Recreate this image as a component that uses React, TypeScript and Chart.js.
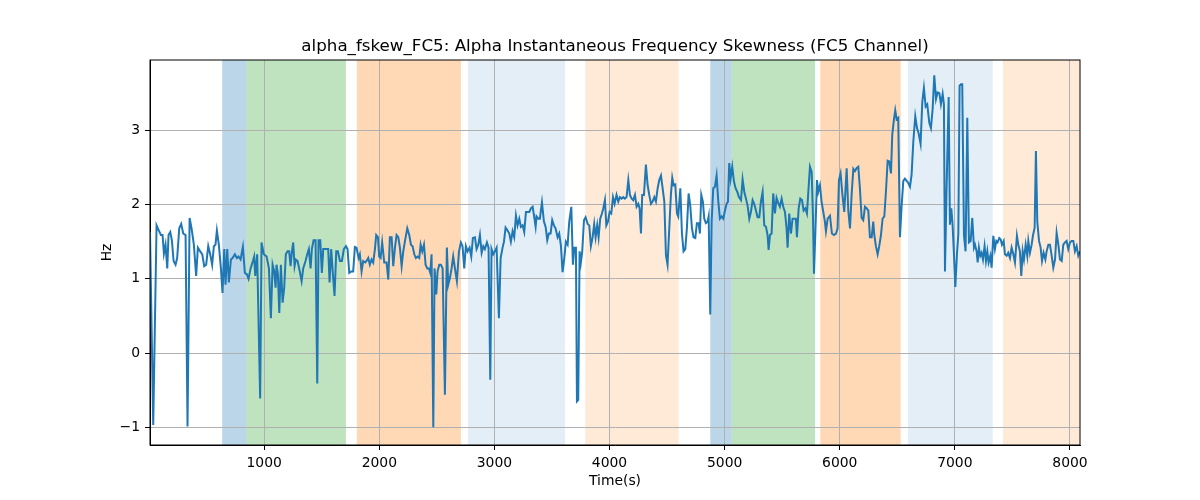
import { useEffect, useRef } from 'react';
import Chart from 'chart.js/auto';

const TITLE = 'alpha_fskew_FC5: Alpha Instantaneous Frequency Skewness (FC5 Channel)';

// [time (s), skewness], split by stretch
const seg0: [number, number][] = [
  [8, 1.63], [36, -0.97], [65, 1.72], [85, 1.65], [103, 1.59], [117, 1.59], [129, 1.34], [143, 1.46],
  [158, 1.14], [169, 1.59], [184, 1.63], [198, 1.52], [213, 1.24], [230, 1.19], [244, 1.28], [262, 1.68],
  [279, 1.74], [297, 1.61], [317, 1.59], [334, -0.99], [352, 1.82], [369, 1.68], [389, 1.46], [409, 1.04],
  [424, 1.42], [444, 1.37], [462, 1.33], [479, 1.17], [496, 1.19], [514, 1.44], [531, 1.33], [548, 1.19],
  [563, 1.44], [577, 1.46], [589, 1.65], [606, 1.46], [624, 1.14], [638, 0.81], [653, 1.4], [664, 0.92],
  [679, 1.4], [693, 0.95], [711, 1.26], [725, 1.28], [745, 1.33], [763, 1.28], [777, 1.3], [795, 1.26],
  [815, 1.43], [832, 1.08], [850, 1.06], [864, 1.0], [882, 1.14], [902, 1.24], [913, 1.3], [922, 1.04],
  [939, 1.33], [965, -0.61],
];
const seg1: [number, number][] = [
  [977, 1.49], [997, 1.33], [1021, 1.3], [1041, 1.14], [1058, 0.47], [1073, 1.19], [1087, 1.1], [1099, 0.88],
  [1107, 1.19], [1119, 1.06], [1131, 0.54], [1145, 1.19], [1160, 0.68], [1174, 0.88], [1188, 1.33], [1203, 1.37],
  [1217, 1.37], [1229, 1.17], [1241, 1.37], [1252, 1.49], [1264, 1.17], [1275, 1.26], [1290, 1.24], [1304, 1.14],
  [1325, 0.97], [1339, 1.14], [1359, 1.24], [1374, 1.33], [1388, 1.4], [1403, 1.14], [1414, 1.4], [1429, 1.52],
  [1446, 1.52], [1461, -0.41], [1472, 1.52], [1487, 1.52], [1501, 1.08], [1513, 1.4], [1527, 1.4], [1542, 1.4],
  [1556, 1.4], [1568, 0.95], [1582, 1.4], [1597, 1.06], [1611, 0.77], [1626, 1.37], [1640, 1.37], [1658, 1.24],
  [1675, 1.24], [1692, 1.4], [1710, 1.44], [1724, 1.4], [1739, 1.08], [1756, 1.1], [1773, 1.1], [1788, 1.43],
  [1802, 1.42], [1820, 1.28], [1831, 1.33], [1846, 1.1], [1860, 1.24], [1878, 1.22], [1889, 1.24], [1904, 1.28],
  [1918, 1.19], [1933, 1.26], [1947, 1.22], [1962, 1.4], [1973, 1.59], [1988, 1.56],
];
const seg2: [number, number][] = [
  [1999, 1.3], [2011, 1.28], [2025, 1.49], [2043, 1.22], [2063, 1.22], [2078, 0.99], [2092, 1.56], [2107, 1.56],
  [2121, 1.17], [2136, 1.42], [2150, 1.59], [2165, 1.56], [2179, 1.42], [2194, 1.17], [2208, 1.37], [2222, 1.5],
  [2243, 1.68], [2260, 1.59], [2275, 1.46], [2289, 1.44], [2304, 1.33], [2318, 1.28], [2332, 1.3], [2347, 1.28],
  [2359, 1.46], [2373, 1.37], [2388, 1.46], [2402, 1.19], [2417, 1.14], [2431, 1.14], [2443, 1.08], [2454, 1.33],
  [2469, -1.0], [2480, 1.14], [2495, 0.79], [2506, 1.1], [2521, 1.19], [2535, 1.19], [2550, 1.14], [2570, -0.56],
  [2587, 1.42], [2599, 0.92], [2613, 1.01], [2628, 1.14], [2642, 1.3], [2657, 1.14], [2674, 0.97], [2692, 1.37],
  [2709, 1.49], [2723, 1.44], [2738, 1.14], [2752, 1.44], [2767, 1.37], [2784, 1.42], [2799, 1.3], [2813, 1.55],
  [2831, 1.56], [2845, 1.4], [2860, 1.46], [2874, 1.59], [2889, 1.35], [2903, 1.44], [2917, 1.4], [2935, 1.49],
  [2949, 1.42], [2964, -0.36], [2975, 1.4], [2990, 1.33],
];
const seg3: [number, number][] = [
  [3004, 1.37], [3019, 1.42], [3039, 0.47], [3054, 1.28], [3071, 1.42], [3083, 1.5], [3097, 1.69], [3114, 1.65],
  [3129, 1.61], [3143, 1.5], [3158, 1.64], [3172, 1.56], [3187, 1.85], [3201, 1.72], [3216, 1.81], [3230, 1.7],
  [3245, 1.72], [3259, 1.63], [3274, 1.9], [3288, 1.9], [3303, 1.9], [3317, 1.95], [3332, 1.97], [3346, 1.83],
  [3358, 1.7], [3366, 1.84], [3381, 1.81], [3395, 1.81], [3413, 2.03], [3430, 1.77], [3445, 1.7], [3459, 1.52],
  [3473, 1.61], [3488, 1.61], [3502, 1.79], [3517, 1.72], [3531, 1.68], [3549, 1.56], [3563, 1.61], [3578, 1.44],
  [3592, 1.09], [3607, 1.28], [3621, 1.5], [3636, 1.46], [3650, 1.77], [3668, 1.97], [3682, 1.19], [3694, 1.42],
  [3708, 1.42], [3717, -0.65], [3728, -0.63], [3740, 1.37], [3751, 1.22], [3763, 1.37], [3778, 1.79], [3792, 1.83],
  [3810, 1.74], [3824, 1.72], [3838, 1.44], [3853, 1.56], [3867, 1.74], [3879, 1.56], [3893, 1.72], [3905, 1.56],
  [3919, 1.81], [3934, 1.88], [3946, 1.95], [3960, 2.06], [3972, 1.72], [3986, 1.77],
];
const seg4: [number, number][] = [
  [4001, 1.9], [4015, 1.88], [4030, 2.1], [4044, 2.01], [4061, 2.13], [4076, 2.04], [4090, 2.1], [4105, 2.08],
  [4119, 2.1], [4134, 2.08], [4148, 2.1], [4163, 2.33], [4177, 2.13], [4192, 2.08], [4206, 2.06], [4221, 2.13],
  [4235, 1.97], [4250, 2.01], [4261, 1.95], [4273, 1.61], [4284, 2.13], [4299, 2.13], [4316, 2.54], [4331, 2.26],
  [4345, 2.13], [4360, 2.01], [4374, 2.04], [4389, 2.1], [4403, 2.04], [4418, 2.22], [4432, 2.33], [4447, 2.39],
  [4461, 2.22], [4476, 2.04], [4490, 1.32], [4504, 1.19], [4519, 1.68], [4533, 2.13], [4545, 2.36], [4557, 2.26],
  [4571, 2.27], [4586, 1.88], [4597, 1.84], [4615, 2.22], [4629, 1.61], [4643, 1.37], [4658, 1.4], [4672, 1.68],
  [4687, 2.15], [4701, 1.99], [4716, 1.68], [4730, 1.56], [4745, 1.55], [4759, 1.75], [4774, 1.75], [4785, 1.61],
  [4797, 2.13], [4811, 2.04], [4823, 1.81], [4837, 1.75], [4852, 1.77], [4861, 1.84], [4875, 0.52], [4887, 1.77],
  [4901, 2.22], [4916, 2.24], [4930, 2.39], [4945, 2.04], [4959, 1.81], [4974, 1.84], [4988, 1.81],
];
const seg5: [number, number][] = [
  [5003, 1.92], [5017, 2.01], [5029, 2.04], [5040, 2.56], [5052, 2.35], [5066, 2.51], [5081, 2.31], [5095, 2.22],
  [5110, 2.17], [5124, 2.1], [5142, 2.06], [5156, 2.34], [5171, 2.17], [5185, 2.08], [5199, 1.99], [5214, 1.81],
  [5228, 1.9], [5243, 2.06], [5257, 2.01], [5272, 1.92], [5286, 1.83], [5301, 1.83], [5315, 2.04], [5330, 2.17],
  [5344, 1.72], [5359, 1.7], [5373, 1.59], [5382, 1.39], [5394, 1.59], [5408, 1.61], [5422, 2.15], [5437, 1.88],
  [5451, 2.09], [5466, 2.02], [5480, 1.97], [5495, 2.08], [5509, 1.97], [5524, 1.9], [5538, 1.68], [5547, 1.42],
  [5561, 1.88], [5576, 1.61], [5590, 1.81], [5605, 1.81], [5619, 1.81], [5628, 1.56], [5643, 1.95], [5657, 2.08],
  [5672, 2.06], [5686, 1.92], [5701, 1.95], [5715, 1.88], [5729, 2.22], [5741, 2.51], [5756, 2.44], [5767, 1.86],
  [5776, 1.07], [5790, 1.72], [5802, 2.33], [5813, 2.17], [5828, 2.26], [5842, 2.04], [5857, 1.9], [5871, 1.77],
  [5880, 1.64], [5895, 1.81], [5915, 1.85], [5932, 1.61], [5950, 1.59], [5967, 1.61], [5981, 1.68], [5993, 2.33],
];
const seg6: [number, number][] = [
  [6007, 2.42], [6022, 2.15], [6039, 1.9], [6060, 2.49], [6074, 1.92], [6089, 1.68], [6103, 2.13], [6118, 2.48],
  [6132, 2.45], [6146, 2.49], [6161, 2.51], [6175, 2.22], [6190, 1.82], [6204, 1.79], [6219, 1.97], [6233, 1.95],
  [6248, 1.92], [6262, 1.56], [6277, 1.56], [6291, 1.77], [6300, 1.59], [6314, 1.44], [6329, 1.33], [6343, 1.44],
  [6358, 1.59], [6372, 1.81], [6387, 1.84], [6401, 2.17], [6416, 2.59], [6430, 2.58], [6445, 2.42], [6456, 2.94],
  [6471, 3.15], [6482, 3.27], [6494, 3.15], [6508, 3.17], [6523, 1.56], [6537, 1.97], [6552, 2.32], [6566, 2.35],
  [6581, 2.32], [6595, 2.29], [6610, 2.24], [6624, 2.4], [6639, 2.85], [6656, 3.19], [6671, 3.03], [6685, 2.96],
  [6702, 2.82], [6717, 3.38], [6731, 3.57], [6746, 3.32], [6760, 3.35], [6778, 3.1], [6792, 3.03], [6807, 3.29],
  [6821, 3.74], [6836, 3.42], [6850, 3.51], [6865, 3.5], [6879, 3.35], [6894, 3.49], [6905, 3.35], [6914, 1.1],
  [6928, 2.22], [6946, 3.45], [6957, 1.73], [6969, 1.95], [6980, 1.73], [6992, 1.33],
];
const seg7: [number, number][] = [
  [7004, 0.89], [7018, 1.33], [7030, 1.6], [7041, 3.6], [7053, 3.62], [7064, 3.62], [7079, 1.58], [7093, 1.37],
  [7108, 3.17], [7122, 1.49], [7137, 1.51], [7151, 1.82], [7166, 1.42], [7175, 1.46], [7189, 1.37], [7198, 1.22],
  [7209, 1.42], [7221, 1.31], [7232, 1.35], [7244, 1.26], [7258, 1.44], [7270, 1.24], [7282, 1.37], [7293, 1.22],
  [7308, 1.31], [7319, 1.15], [7334, 1.58], [7348, 1.4], [7360, 1.51], [7371, 1.49], [7386, 1.55], [7398, 1.53],
  [7409, 1.46], [7424, 1.51], [7435, 1.33], [7450, 1.31], [7464, 1.35], [7479, 1.28], [7493, 1.42], [7508, 1.33],
  [7522, 1.22], [7539, 1.58], [7551, 1.46], [7565, 1.37], [7577, 1.04], [7589, 1.37], [7600, 1.26], [7615, 1.46],
  [7629, 1.31], [7638, 1.51], [7652, 1.35], [7667, 1.46], [7678, 1.58], [7693, 1.69], [7704, 2.72], [7716, 1.77],
  [7731, 1.51], [7745, 1.42], [7757, 1.24], [7771, 1.35], [7786, 1.26], [7797, 1.37], [7812, 1.46], [7826, 1.46],
  [7841, 1.31], [7855, 1.15], [7870, 1.26], [7884, 1.62], [7899, 1.46], [7913, 1.26], [7928, 1.24], [7942, 1.46],
  [7956, 1.49], [7971, 1.51], [7985, 1.4], [8000, 1.49], [8014, 1.51], [8029, 1.51], [8043, 1.37], [8058, 1.44],
  [8072, 1.31], [8087, 1.37],
];

const series = [...seg0, ...seg1, ...seg2, ...seg3, ...seg4, ...seg5, ...seg6, ...seg7];

// shaded intervals (s)
const spanStart = [635, 847, 1805, 2770, 3789, 4875, 5061, 5831, 6593, 7418];
const spanEnd = [847, 1710, 2709, 3613, 4600, 5061, 5785, 6529, 7329, 8087];
const spanKind = ['a', 'b', 'c', 'd', 'e', 'a', 'b', 'c', 'd', 'e'];

const xTicks = [1000, 2000, 3000, 4000, 5000, 6000, 7000, 8000];
const yTicks = [-1, 0, 1, 2, 3];

const spanColors: { [k: string]: string } = {
  a: 'rgba(31,119,180,0.3)',
  b: 'rgba(44,160,44,0.3)',
  c: 'rgba(255,127,14,0.3)',
  d: 'rgba(31,119,180,0.12)',
  e: 'rgba(255,127,14,0.16)',
};

const FONT = 'DejaVu Sans';

export default function App() {
  const canvasRef = useRef<HTMLCanvasElement>(null);
  const chartRef = useRef<Chart | null>(null);

  useEffect(() => {
    if (!canvasRef.current) return;
    if (chartRef.current) chartRef.current.destroy();

    const spansPlugin = {
      id: 'spans',
      beforeDraw(chart: any) {
        const { ctx, chartArea, scales } = chart;
        ctx.save();
        spanStart.forEach((s, i) => {
          const x0 = Math.max(chartArea.left, scales.x.getPixelForValue(s));
          const x1 = Math.min(chartArea.right, scales.x.getPixelForValue(spanEnd[i]));
          ctx.fillStyle = spanColors[spanKind[i]];
          ctx.fillRect(x0, chartArea.top, x1 - x0, chartArea.bottom - chartArea.top);
        });
        ctx.restore();
      },
      afterDraw(chart: any) {
        const { ctx, chartArea } = chart;
        ctx.save();
        ctx.strokeStyle = '#000';
        ctx.lineWidth = 1;
        ctx.strokeRect(chartArea.left, chartArea.top, chartArea.right - chartArea.left, chartArea.bottom - chartArea.top);
        ctx.fillStyle = '#000';
        ctx.font = `16.7px "${FONT}"`;
        ctx.textAlign = 'center';
        ctx.textBaseline = 'middle';
        ctx.fillText(TITLE, (chartArea.left + chartArea.right) / 2, 47);
        ctx.restore();
      },
    };

    chartRef.current = new Chart(canvasRef.current, {
      type: 'line',
      data: {
        datasets: [{
          data: series.map(([x, y]) => ({ x, y })),
          borderColor: '#1f77b4',
          borderWidth: 2,
          pointRadius: 0,
          tension: 0,
          fill: false,
        }],
      },
      options: {
        animation: false,
        responsive: false,
        layout: { padding: { top: 60, right: 120, left: 0, bottom: 0 } },
        plugins: { legend: { display: false }, title: { display: false }, tooltip: { enabled: false } },
        scales: {
          x: {
            type: 'linear',
            min: 8,
            max: 8087,
            afterBuildTicks: (s: any) => { s.ticks = xTicks.map(v => ({ value: v })); },
            afterFit: (s: any) => { s.height = 55; },
            grid: { color: '#b0b0b0', lineWidth: 1, tickColor: '#000', tickLength: 5 },
            border: { color: '#000', width: 1 },
            ticks: { color: '#000', padding: 5, font: { family: FONT, size: 13.9 }, maxRotation: 0, callback: (v: any) => String(v) },
            title: { display: true, text: 'Time(s)', color: '#000', font: { family: FONT, size: 13.9 }, padding: { bottom: 10.5, top: 0 } },
          },
          y: {
            type: 'linear',
            min: -1.238,
            max: 3.947,
            afterBuildTicks: (s: any) => { s.ticks = yTicks.map(v => ({ value: v })); },
            afterFit: (s: any) => { s.width = 150; },
            grid: { color: '#b0b0b0', lineWidth: 1, tickColor: '#000', tickLength: 5 },
            border: { color: '#000', width: 1 },
            ticks: { color: '#000', padding: 5, font: { family: FONT, size: 13.9 }, callback: (v: any) => String(v).replace('-', '\u2212') },
            title: { display: true, text: 'Hz', color: '#000', font: { family: FONT, size: 13.9 }, padding: { top: 99.5, bottom: 0 } },
          },
        },
      },
      plugins: [spansPlugin],
    });

    return () => {
      if (chartRef.current) {
        chartRef.current.destroy();
        chartRef.current = null;
      }
    };
  }, []);

  return (
    <div style={{ position: 'fixed', left: 0, top: 0, width: 1200, height: 500, background: '#fff' }}>
      <canvas ref={canvasRef} width={1200} height={500} />
    </div>
  );
}
